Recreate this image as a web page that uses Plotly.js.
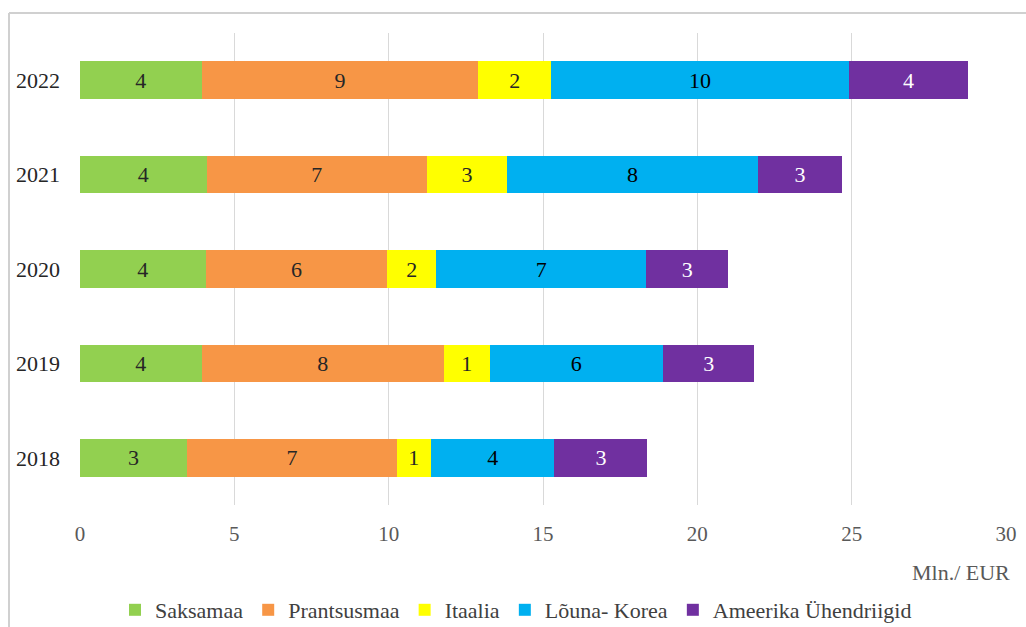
<!DOCTYPE html>
<html>
<head>
<meta charset="utf-8">
<script src="https://cdn.plot.ly/plotly-3.0.1.min.js"></script>
<style>
html,body{margin:0;padding:0;background:#fff;}
#chart{width:1026px;height:627px;}
</style>
</head>
<body>
<div id="chart"></div>
<script>
const years = ['2018', '2019', '2020', '2021', '2022'];
const seriesNames = ['Saksamaa', 'Prantsusmaa', 'Itaalia', 'Lõuna- Korea', 'Ameerika Ühendriigid'];
const saksamaa    = [3.47, 3.94, 4.07, 4.10, 3.94];
const prantsusmaa = [6.79, 7.85, 5.89, 7.14, 8.96];
const itaalia     = [1.11, 1.48, 1.57, 2.59, 2.37];
const louna_korea = [4.00, 5.62, 6.82, 8.14, 9.63];
const usa         = [3.01, 2.96, 2.64, 2.71, 3.88];
const colors = ['#92D050', '#F79646', '#FFFF00', '#00B0F0', '#7030A0'];
const labelColors = ['#262626', '#262626', '#262626', '#000000', '#FFFFFF'];
const xTicks = [0, 5, 10, 15, 20, 25, 30];

const FONT = '"Liberation Serif", "Times New Roman", serif';
const allSeries = [saksamaa, prantsusmaa, itaalia, louna_korea, usa];

const data = allSeries.map((vals, i) => ({
  type: 'bar',
  orientation: 'h',
  name: seriesNames[i],
  y: years,
  x: vals,
  marker: {color: colors[i], line: {width: 0}},
  texttemplate: '%{x:.0f}',
  textposition: 'inside',
  insidetextanchor: 'middle',
  textangle: 0,
  constraintext: 'none',
  textfont: {family: FONT, size: 22, color: labelColors[i]},
  hoverinfo: 'x+name'
}));

const plotL = 80, plotR = 1006, plotT = 33, plotB = 505;
const pw = plotR - plotL, ph = plotB - plotT;
const px = v => (v - plotL) / pw;
const py = v => (plotB - v) / ph;

const layout = {
  width: 1026,
  height: 627,
  barmode: 'stack',
  bargap: 0.6,
  paper_bgcolor: '#ffffff',
  plot_bgcolor: '#ffffff',
  margin: {l: plotL, r: 1026 - plotR, t: plotT, b: 627 - plotB, pad: 0, autoexpand: false},
  font: {family: FONT, color: '#595959'},
  xaxis: {
    range: [0, 30],
    tickvals: xTicks,
    ticktext: xTicks.map(String),
    showgrid: true,
    gridcolor: '#d9d9d9',
    gridwidth: 1,
    zeroline: false,
    showline: false,
    ticks: '',
    ticklabelstandoff: 14,
    tickfont: {family: FONT, size: 21, color: '#595959'},
    fixedrange: true
  },
  yaxis: {
    type: 'category',
    categoryorder: 'array',
    categoryarray: years,
    range: [-0.5, 4.5],
    showgrid: false,
    zeroline: false,
    showline: false,
    ticks: '',
    ticklabelstandoff: 19,
    tickfont: {family: FONT, size: 22, color: '#262626'},
    fixedrange: true
  },
  showlegend: true,
  legend: {
    orientation: 'h',
    x: px(516),
    xanchor: 'center',
    y: py(610),
    yanchor: 'middle',
    font: {family: FONT, size: 22, color: '#404040'},
    traceorder: 'normal',
    itemwidth: 20,
    bgcolor: 'rgba(0,0,0,0)'
  },
  annotations: [{
    text: 'Mln./ EUR',
    xref: 'paper', yref: 'paper',
    x: px(1012), y: py(572),
    xanchor: 'right', yanchor: 'middle',
    showarrow: false,
    font: {family: FONT, size: 22, color: '#595959'}
  }],
  shapes: [
    {type: 'line', xref: 'paper', yref: 'paper', x0: px(9), x1: px(1030), y0: py(13), y1: py(13),
     line: {color: '#d0d0d0', width: 2}},
    {type: 'line', xref: 'paper', yref: 'paper', x0: px(9), x1: px(9), y0: py(13), y1: py(630),
     line: {color: '#d0d0d0', width: 2}}
  ]
};

Plotly.newPlot('chart', data, layout, {displayModeBar: false, staticPlot: true});
</script>
</body>
</html>
